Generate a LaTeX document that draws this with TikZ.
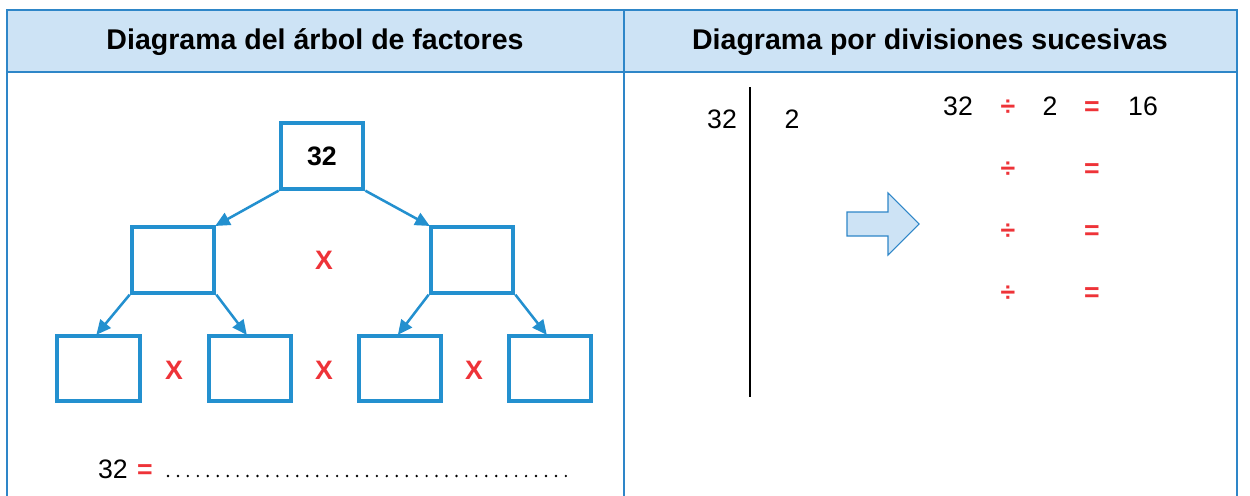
\documentclass[tikz,border=0pt]{standalone}
\usepackage{fontspec}
\setmainfont{Liberation Sans}
\usetikzlibrary{arrows.meta,shapes.arrows}
\definecolor{bblue}{HTML}{2390CF}
\definecolor{hfill}{HTML}{CDE3F5}
\definecolor{tline}{HTML}{2E86C8}
\definecolor{rred}{HTML}{EE3338}
\tikzset{
  box/.style={draw=bblue,line width=3pt,minimum width=62pt,minimum height=49pt,inner sep=0pt,font=\bfseries\fontsize{20}{22}\selectfont},
  con/.style={draw=bblue,line width=1.9pt,-{Triangle[length=11pt,width=10pt]},shorten >=-1pt},
  hdr/.style={font=\bfseries\fontsize{21.4}{24}\selectfont},
  num/.style={font=\fontsize{20}{22}\selectfont,inner sep=0pt,anchor=base},
  op/.style={font=\bfseries\fontsize{20}{22}\selectfont,text=rred,inner sep=0pt,anchor=base},
  tab/.style={draw=tline,line width=1.1pt}
}
\begin{document}
\begin{tikzpicture}[x=0.75pt,y=-0.75pt]
\useasboundingbox (0,0) rectangle (1250,496);
% table
\fill[hfill] (7,10) rectangle (1237,72);
\draw[tab] (7,496) -- (7,10) -- (1237,10) -- (1237,496);
\draw[tab] (7,72) -- (1237,72);
\draw[tab] (624,10) -- (624,496);
\node[hdr] (h1) at (315,42) {Diagrama del árbol de factores};
\node[hdr] (h2) at (930,42) {Diagrama por divisiones sucesivas};
% tree
\node[box] (t) at (322,156) {32};
\node[box] (l) at (173,260) {};
\node[box] (r) at (472,260) {};
\node[box] (b1) at (98.5,368.5) {};
\node[box] (b2) at (250,368.5) {};
\node[box] (b3) at (400,368.5) {};
\node[box] (b4) at (550,368.5) {};
\draw[con] (t.south west) -- (l.north east);
\draw[con] (t.south east) -- (r.north west);
\draw[con] (l.south west) -- ([xshift=-1pt]b1.north);
\draw[con] (l.south east) -- ([xshift=-3pt]b2.north);
\draw[con] (r.south west) -- ([xshift=-1pt]b3.north);
\draw[con] (r.south east) -- ([xshift=-3pt]b4.north);
\node[op] (x0) at (324,269) {X};
\node[op] (x1) at (174,379) {X};
\node[op] (x2) at (324,379) {X};
\node[op] (x3) at (474,379) {X};
% equation line
\node[num] (e32) at (113,478) {32};
\node[op] (eeq) at (145,478) {=};
\coordinate (ds) at (168,476);
\coordinate (de) at (566,476);
\draw[black,line width=2pt,line cap=round,dash pattern=on 0pt off 7.46pt] (ds) -- (de);
% right side
\coordinate (vt) at (750,87);
\coordinate (vb) at (750,397);
\draw[black,line width=1.2pt] (vt) -- (vb);
\node[num] (n32) at (722,128) {32};
\node[num] (n2) at (792,128) {2};
\draw[tline,fill=hfill,line width=0.8pt] (847,212) -- (888,212) -- (888,193) -- (919,224) -- (888,255) -- (888,236) -- (847,236) -- cycle;
\node[num] (r32) at (958,115) {32};
\node[op] (d1) at (1008,115) {÷};
\node[num] (r2) at (1050,115) {2};
\node[op] (q1) at (1092,115) {=};
\node[num] (r16) at (1143,115) {16};
\node[op] (d2) at (1008,177) {÷};
\node[op] (q2) at (1092,177) {=};
\node[op] (d3) at (1008,239) {÷};
\node[op] (q3) at (1092,239) {=};
\node[op] (d4) at (1008,301) {÷};
\node[op] (q4) at (1092,301) {=};
\end{tikzpicture}
\end{document}
